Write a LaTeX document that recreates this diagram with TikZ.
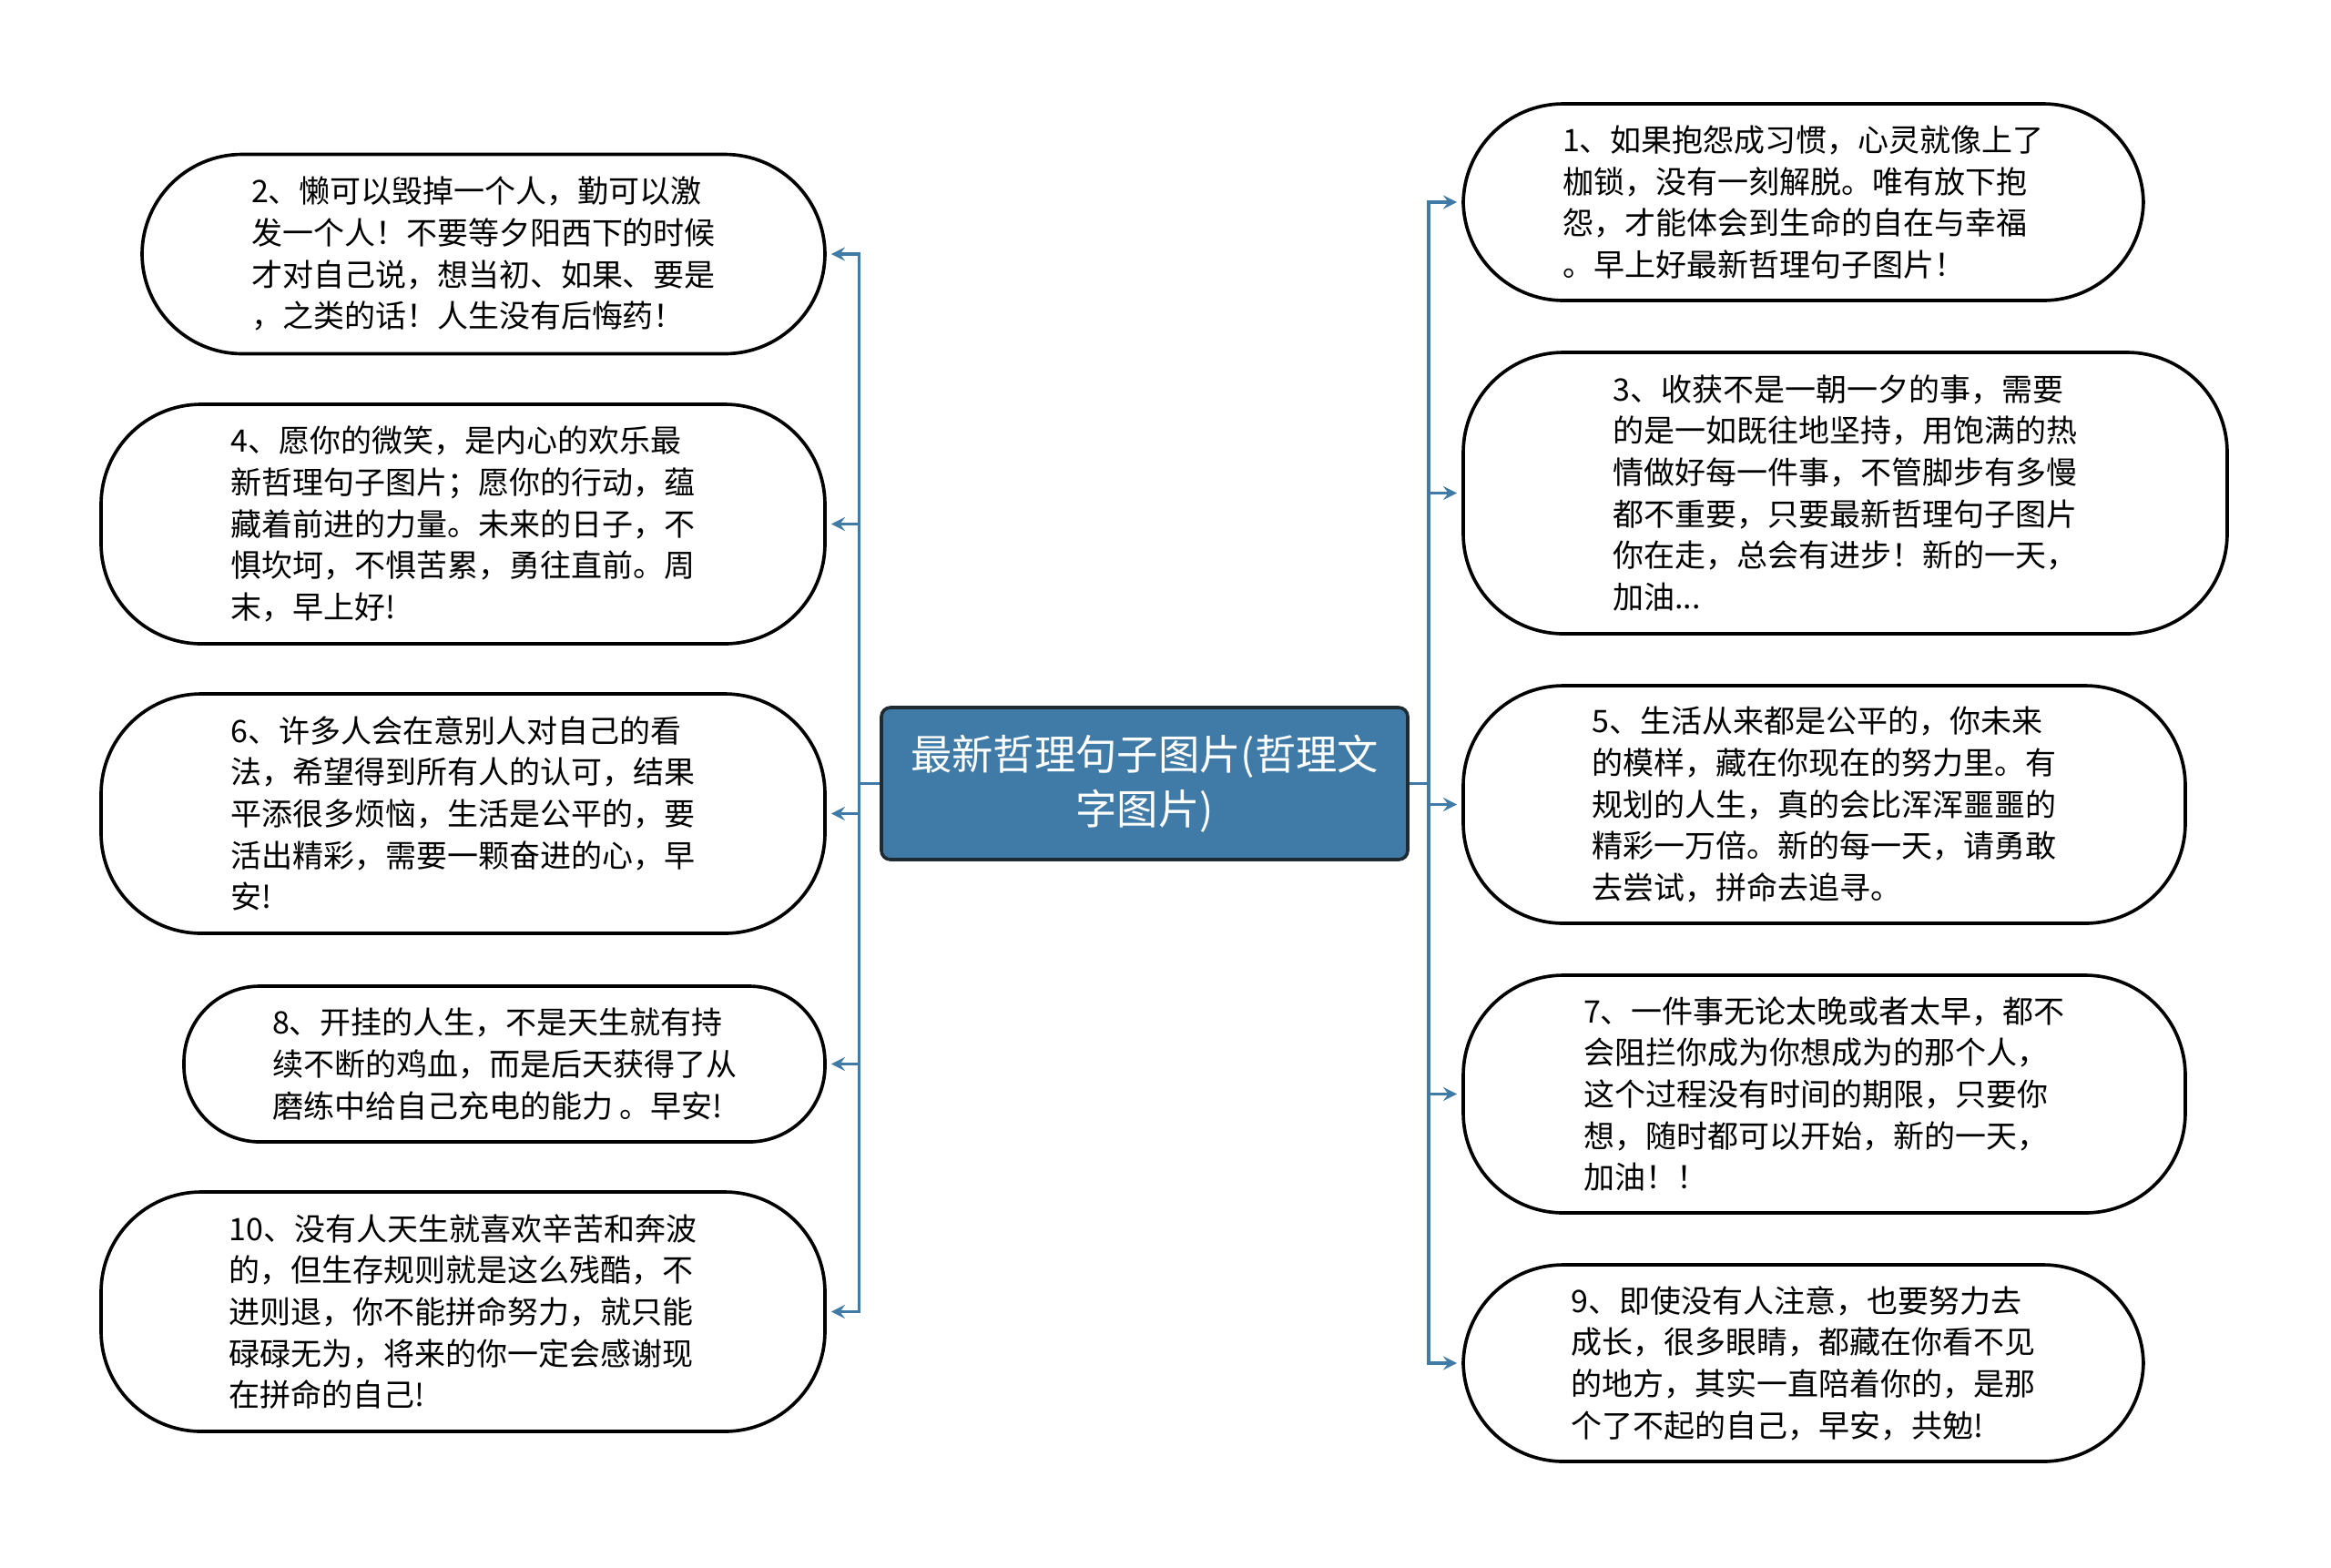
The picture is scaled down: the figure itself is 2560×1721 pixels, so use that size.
\documentclass[tikz,border=0pt]{standalone}
\usepackage{fontspec}
\setmainfont{Noto Sans CJK SC}

\definecolor{topicblue}{HTML}{3F7BA6}
\definecolor{topicedge}{HTML}{1F2B33}

\tikzset{
	leaf/.style={rectangle, draw, line width=1.1pt, rounded corners=33pt, fill=white,
		align=left, font=\fontsize{10.2pt}{13.7pt}\selectfont},
	topic/.style={rectangle, draw=topicedge, line width=1.1pt, rounded corners=3pt,
		fill=topicblue, text=white, align=center, font=\fontsize{13.6pt}{18pt}\selectfont},
	branch/.style={->, >=stealth, draw=topicblue, line width=1pt, shorten >=1.5pt}
}

\begin{document}
\begin{tikzpicture}[x=0.3pt, y=-0.3pt]
		\useasboundingbox (0,0) rectangle (2560,1721);

		\draw
		(1257, 860.5) node [topic, minimum width=173.4pt, minimum height=50.1pt] (ROOT) {最新哲理句子图片(哲理文\\字图片)};

		% left side
		\draw
		(531, 279) node [leaf, minimum width=225pt, minimum height=65.7pt] (Q2)
			{2、懒可以毁掉一个人，勤可以激\\发一个人！不要等夕阳西下的时候\\才对自己说，想当初、如果、要是\\，之类的话！人生没有后悔药！}
		(508.5, 575.5) node [leaf, minimum width=238.5pt, minimum height=78.9pt] (Q4)
			{4、愿你的微笑，是内心的欢乐最\\新哲理句子图片；愿你的行动，蕴\\藏着前进的力量。未来的日子，不\\惧坎坷，不惧苦累，勇往直前。周\\末，早上好!}
		(508.5, 893.5) node [leaf, minimum width=238.5pt, minimum height=78.9pt] (Q6)
			{6、许多人会在意别人对自己的看\\法，希望得到所有人的认可，结果\\平添很多烦恼，生活是公平的，要\\活出精彩，需要一颗奋进的心，早\\安!}
		(554, 1168.5) node [leaf, rounded corners=25pt, minimum width=211.2pt, minimum height=51.3pt] (Q8)
			{8、开挂的人生，不是天生就有持\\续不断的鸡血，而是后天获得了从\\磨练中给自己充电的能力 。早安!}
		(508.5, 1440.5) node [leaf, minimum width=238.5pt, minimum height=78.9pt] (Q10)
			{10、没有人天生就喜欢辛苦和奔波\\的，但生存规则就是这么残酷，不\\进则退，你不能拼命努力，就只能\\碌碌无为，将来的你一定会感谢现\\在拼命的自己!};

		% right side
		\draw
		(1980.5, 222) node [leaf, minimum width=224.1pt, minimum height=64.8pt] (Q1)
			{1、如果抱怨成习惯，心灵就像上了\\枷锁，没有一刻解脱。唯有放下抱\\怨，才能体会到生命的自在与幸福\\。早上好最新哲理句子图片！}
		(2026.5, 541.5) node [leaf, minimum width=251.7pt, minimum height=92.7pt] (Q3)
			{3、收获不是一朝一夕的事，需要\\的是一如既往地坚持，用饱满的热\\情做好每一件事，不管脚步有多慢\\都不重要，只要最新哲理句子图片\\你在走，总会有进步！新的一天，\\加油...}
		(2003.5, 883.5) node [leaf, minimum width=237.9pt, minimum height=78.3pt] (Q5)
			{5、生活从来都是公平的，你未来\\的模样，藏在你现在的努力里。有\\规划的人生，真的会比浑浑噩噩的\\精彩一万倍。新的每一天，请勇敢\\去尝试，拼命去追寻。}
		(2003.5, 1201.5) node [leaf, minimum width=237.9pt, minimum height=78.3pt] (Q7)
			{7、一件事无论太晚或者太早，都不\\会阻拦你成为你想成为的那个人，\\这个过程没有时间的期限，只要你\\想，随时都可以开始，新的一天，\\加油！！}
		(1980.5, 1497) node [leaf, minimum width=224.1pt, minimum height=64.8pt] (Q9)
			{9、即使没有人注意，也要努力去\\成长，很多眼睛，都藏在你看不见\\的地方，其实一直陪着你的，是那\\个了不起的自己，早安，共勉!};

		\draw[branch] (ROOT.west) -- ++(-23,0) |- (Q2.east);
		\draw[branch] (ROOT.west) -- ++(-23,0) |- (Q4.east);
		\draw[branch] (ROOT.west) -- ++(-23,0) |- (Q6.east);
		\draw[branch] (ROOT.west) -- ++(-23,0) |- (Q8.east);
		\draw[branch] (ROOT.west) -- ++(-23,0) |- (Q10.east);

		\draw[branch] (ROOT.east) -- ++(21,0) |- (Q1.west);
		\draw[branch] (ROOT.east) -- ++(21,0) |- (Q3.west);
		\draw[branch] (ROOT.east) -- ++(21,0) |- (Q5.west);
		\draw[branch] (ROOT.east) -- ++(21,0) |- (Q7.west);
		\draw[branch] (ROOT.east) -- ++(21,0) |- (Q9.west);
	\end{tikzpicture}
\end{document}
